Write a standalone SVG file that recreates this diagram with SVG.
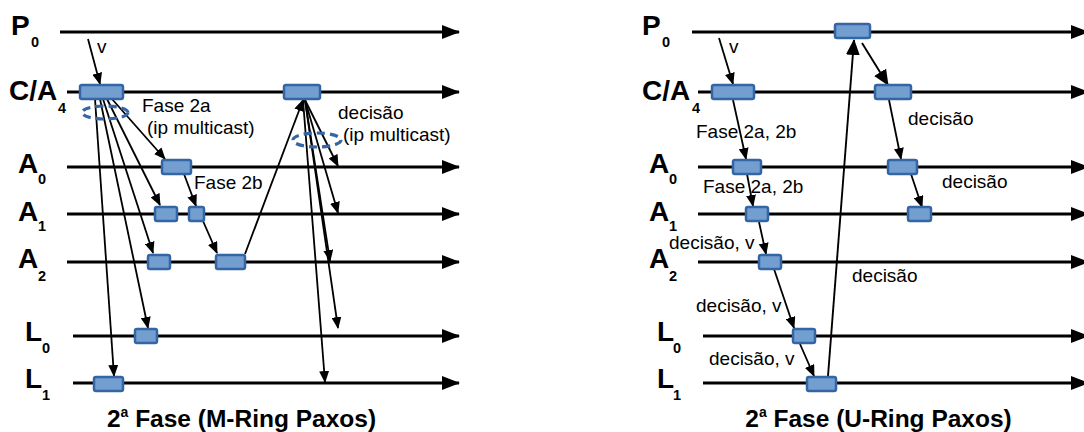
<svg xmlns="http://www.w3.org/2000/svg" width="1084" height="432" viewBox="0 0 1084 432">
  <style>
    .tl { stroke: #000; stroke-width: 3; fill: none; marker-end: url(#bigArrow); }
    .msg { stroke: #000; stroke-width: 1.8; fill: none; marker-end: url(#smallArrow); }
    .msgBig { stroke: #000; stroke-width: 1.9; fill: none; marker-end: url(#midArrow); }
    .box { fill: #729fcf; stroke: #3465a4; stroke-width: 2.5; }
    .mc { fill: none; stroke: #3465a4; stroke-width: 3.2; stroke-dasharray: 8 5; }
    .lbl { font-family: "Liberation Sans", Arial, sans-serif; font-size: 19px; fill: #000; }
    .proc { font-family: "Liberation Sans", Arial, sans-serif; font-size: 28px; font-weight: bold; fill: #000; }
    .sub { font-family: "Liberation Sans", Arial, sans-serif; font-size: 14.5px; font-weight: bold; fill: #000; }
    .title { font-family: "Liberation Sans", Arial, sans-serif; font-size: 24.5px; font-weight: bold; fill: #000; text-anchor: middle; }
  </style>
  <defs>
    <marker id="bigArrow" markerUnits="userSpaceOnUse" markerWidth="18" markerHeight="14" refX="17" refY="7" orient="auto">
      <path d="M0,0 L18,7 L0,14 z" fill="#000"/>
    </marker>
    <marker id="smallArrow" markerUnits="userSpaceOnUse" markerWidth="12" markerHeight="10" refX="11" refY="5" orient="auto">
      <path d="M0,0 L12,5 L0,10 z" fill="#000"/>
    </marker>
    <marker id="midArrow" markerUnits="userSpaceOnUse" markerWidth="16" markerHeight="14" refX="15" refY="7" orient="auto">
      <path d="M0,0 L16,7 L0,14 z" fill="#000"/>
    </marker>
  </defs>

  <!-- process labels, left panel -->
  <g id="labels-m">
    <text class="proc" x="11" y="35">P</text><text class="sub" x="31" y="47">0</text>
    <text class="proc" x="9" y="100">C/A</text><text class="sub" x="58" y="113">4</text>
    <text class="proc" x="18" y="173">A</text><text class="sub" x="38" y="184">0</text>
    <text class="proc" x="18" y="221">A</text><text class="sub" x="38" y="231">1</text>
    <text class="proc" x="18" y="268">A</text><text class="sub" x="38" y="281">2</text>
    <text class="proc" x="25" y="341">L</text><text class="sub" x="42" y="353">0</text>
    <text class="proc" x="25" y="388">L</text><text class="sub" x="42" y="400">1</text>
  </g>

  <!-- process labels, right panel -->
  <g id="labels-u">
    <text class="proc" x="642" y="35">P</text><text class="sub" x="662" y="47">0</text>
    <text class="proc" x="642" y="100">C/A</text><text class="sub" x="692" y="113">4</text>
    <text class="proc" x="649" y="173">A</text><text class="sub" x="669" y="184">0</text>
    <text class="proc" x="649" y="221">A</text><text class="sub" x="669" y="231">1</text>
    <text class="proc" x="649" y="268">A</text><text class="sub" x="669" y="281">2</text>
    <text class="proc" x="657" y="341">L</text><text class="sub" x="673" y="353">0</text>
    <text class="proc" x="657" y="388">L</text><text class="sub" x="673" y="400">1</text>
  </g>

  <!-- time lines -->
  <g id="timelines">
    <line class="tl" x1="60" y1="32" x2="459" y2="32"/>
    <line class="tl" x1="67" y1="92" x2="459" y2="92"/>
    <line class="tl" x1="67" y1="167" x2="459" y2="167"/>
    <line class="tl" x1="67" y1="214" x2="459" y2="214"/>
    <line class="tl" x1="67" y1="262" x2="459" y2="262"/>
    <line class="tl" x1="73" y1="336" x2="459" y2="336"/>
    <line class="tl" x1="73" y1="383" x2="459" y2="383"/>

    <line class="tl" x1="692" y1="32" x2="1088" y2="32"/>
    <line class="tl" x1="698" y1="92" x2="1088" y2="92"/>
    <line class="tl" x1="698" y1="167" x2="1088" y2="167"/>
    <line class="tl" x1="698" y1="214" x2="1088" y2="214"/>
    <line class="tl" x1="698" y1="262" x2="1088" y2="262"/>
    <line class="tl" x1="703" y1="336" x2="1088" y2="336"/>
    <line class="tl" x1="703" y1="383" x2="1088" y2="383"/>
  </g>

  <!-- messages -->
  <g id="connectors">
    <!-- M-Ring Paxos -->
    <line class="msg" x1="88" y1="39" x2="100" y2="84"/>
    <line class="msg" x1="112" y1="99" x2="165" y2="159"/>
    <line class="msg" x1="107" y1="99" x2="160" y2="205"/>
    <line class="msg" x1="103" y1="99" x2="153" y2="253"/>
    <line class="msg" x1="100" y1="99" x2="148" y2="328"/>
    <line class="msg" x1="95" y1="99" x2="114" y2="376"/>
    <line class="msg" x1="184" y1="174" x2="196" y2="206"/>
    <line class="msg" x1="203" y1="221" x2="217" y2="253"/>
    <line class="msg" x1="245" y1="254" x2="303" y2="100"/>
    <line class="msg" x1="305" y1="100" x2="338" y2="166"/>
    <line class="msg" x1="305" y1="100" x2="338" y2="213"/>
    <line class="msg" x1="305" y1="100" x2="330" y2="261"/>
    <line class="msg" x1="305" y1="100" x2="338" y2="328"/>
    <line class="msg" x1="303" y1="100" x2="325" y2="382"/>

    <!-- U-Ring Paxos -->
    <line class="msg" x1="719" y1="38" x2="733" y2="84"/>
    <line class="msg" x1="733" y1="100" x2="746" y2="159"/>
    <line class="msg" x1="747" y1="174" x2="753" y2="206"/>
    <line class="msg" x1="759" y1="222" x2="766" y2="254"/>
    <line class="msg" x1="774" y1="269" x2="794" y2="328"/>
    <line class="msg" x1="800" y1="344" x2="814" y2="376"/>
    <line class="msgBig" x1="828" y1="376" x2="854" y2="40"/>
    <line class="msgBig" x1="862" y1="43" x2="888" y2="85"/>
    <line class="msg" x1="889" y1="100" x2="901" y2="159"/>
    <line class="msg" x1="911" y1="174" x2="922" y2="207"/>
  </g>

  <!-- multicast markers -->
  <g id="multicast">
    <ellipse class="mc" cx="105" cy="112.5" rx="23" ry="6.5"/>
    <ellipse class="mc" cx="317" cy="140" rx="24" ry="7"/>
  </g>

  <!-- events, left panel -->
  <g id="m-ca4-a"><rect class="box" x="80" y="85" width="43" height="14" rx="2"/></g>
  <g id="m-ca4-b"><rect class="box" x="284" y="85" width="36" height="14" rx="2"/></g>
  <g id="m-a0"><rect class="box" x="162" y="160" width="29" height="14" rx="2"/></g>
  <g id="m-a1-a"><rect class="box" x="155" y="207" width="22" height="14" rx="2"/></g>
  <g id="m-a1-b"><rect class="box" x="189" y="207" width="15" height="14" rx="2"/></g>
  <g id="m-a2-a"><rect class="box" x="148" y="255" width="22" height="14" rx="2"/></g>
  <g id="m-a2-b"><rect class="box" x="216" y="255" width="29" height="14" rx="2"/></g>
  <g id="m-l0"><rect class="box" x="135" y="329" width="22" height="14" rx="2"/></g>
  <g id="m-l1"><rect class="box" x="94" y="377" width="29" height="14" rx="2"/></g>

  <!-- events, right panel -->
  <g id="u-p0"><rect class="box" x="835" y="24" width="35" height="14" rx="2"/></g>
  <g id="u-ca4-a"><rect class="box" x="712" y="85" width="42" height="14" rx="2"/></g>
  <g id="u-ca4-b"><rect class="box" x="875" y="85" width="36" height="14" rx="2"/></g>
  <g id="u-a0-a"><rect class="box" x="733" y="160" width="28" height="14" rx="2"/></g>
  <g id="u-a0-b"><rect class="box" x="888" y="160" width="29" height="14" rx="2"/></g>
  <g id="u-a1-a"><rect class="box" x="746" y="207" width="22" height="14" rx="2"/></g>
  <g id="u-a1-b"><rect class="box" x="908" y="207" width="23" height="14" rx="2"/></g>
  <g id="u-a2"><rect class="box" x="759" y="255" width="22" height="14" rx="2"/></g>
  <g id="u-l0"><rect class="box" x="793" y="329" width="22" height="14" rx="2"/></g>
  <g id="u-l1"><rect class="box" x="807" y="377" width="29" height="14" rx="2"/></g>

  <!-- message labels -->
  <g id="message-labels">
    <text class="lbl" x="97" y="53">v</text>
    <text class="lbl" x="142" y="112">Fase 2a</text>
    <text class="lbl" x="147" y="134">(ip multicast)</text>
    <text class="lbl" x="194" y="189">Fase 2b</text>
    <text class="lbl" x="338" y="119">decisão</text>
    <text class="lbl" x="343" y="141">(ip multicast)</text>

    <text class="lbl" x="729" y="53">v</text>
    <text class="lbl" x="696" y="138">Fase 2a, 2b</text>
    <text class="lbl" x="703" y="193">Fase 2a, 2b</text>
    <text class="lbl" x="669" y="249">decisão, v</text>
    <text class="lbl" x="696" y="312">decisão, v</text>
    <text class="lbl" x="709" y="365">decisão, v</text>
    <text class="lbl" x="908" y="125">decisão</text>
    <text class="lbl" x="942" y="188">decisão</text>
    <text class="lbl" x="852" y="282">decisão</text>
  </g>

  <!-- panel titles -->
  <g id="titles">
    <text class="title" x="241.5" y="427">2<tspan font-size="14" dy="-10">a</tspan><tspan dy="10"> Fase (M-Ring Paxos)</tspan></text>
    <text class="title" x="878.5" y="427">2<tspan font-size="14" dy="-10">a</tspan><tspan dy="10"> Fase (U-Ring Paxos)</tspan></text>
  </g>
</svg>
